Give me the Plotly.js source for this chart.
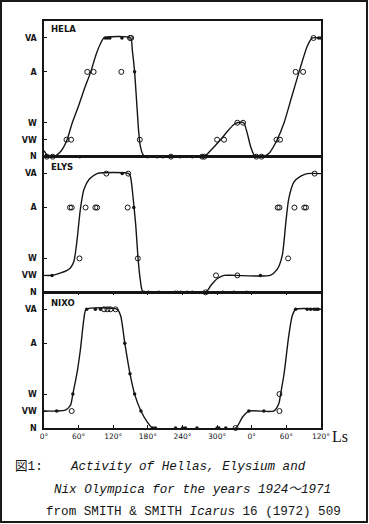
<!DOCTYPE html>
<html>
<head>
<meta charset="utf-8">
<script src="https://cdn.plot.ly/plotly-3.0.1.min.js"></script>
<style>
  html, body { margin: 0; padding: 0; background: #fff; }
  #wrap { position: relative; width: 369px; height: 524px; }
  #chart { position: absolute; left: 0; top: 0; width: 369px; height: 524px; }
  #frame { position: absolute; left: 0; top: 0; width: 368px; height: 523px; box-sizing: border-box; border: 2px solid #1a1a1a; pointer-events: none; }
</style>
</head>
<body>
<div id="wrap"><div id="chart"></div><div id="frame"></div></div>
<script>
// Activity levels: N=0, VW=1, W=2, A=5, VA=7 ; x = Ls in degrees (0..360 then 360..480)
const levelVals = [0, 1, 2, 5, 7];
const levelText = ['N', 'VW', 'W', 'A', 'VA'];
const lsTickVals = [0, 60, 120, 180, 240, 300, 360, 420, 480];
const lsTickText = ['0°', '60°', '120°', '180°', '240°', '300°', '0°', '60°', '120°'];

// HELA (Hellas)
const helaOpenLs  = [5, 15, 39, 47, 75, 86, 134, 149, 151, 166, 220, 274, 278, 300, 312, 335, 345, 368, 377, 403, 409, 436, 449, 467];
const helaOpenLv  = [0, 0, 1, 1, 5, 5, 5, 7, 7, 1, 0, 0, 0, 1, 1, 2, 2, 0, 0, 1, 1, 5, 5, 7];
const helaDotLs   = [62, 106, 110, 114, 135, 157, 179, 196, 206, 236, 257, 476, 480];
const helaDotLv   = [0, 7, 7, 7, 7, 5, 0, 0, 0, 0, 0, 7, 7];
const helaCurveLs = [0, 5, 12, 20, 30, 40, 49, 60, 70, 81, 90, 97, 104, 150, 153, 157, 161, 164, 167, 171, 175, 278, 287, 298, 306, 318, 329, 335, 346, 352, 358, 364, 368, 378, 390, 404, 416, 429, 442, 456, 465, 480];
const helaCurveLv = [0.35, 0.1, 0, 0.05, 0.35, 1, 2, 3, 4, 5, 6, 6.6, 7, 7, 6.3, 5, 3, 1.5, 0.6, 0.15, 0, 0, 0.3, 0.7, 1, 1.5, 1.9, 2, 2, 1.4, 0.6, 0.1, 0, 0, 0.2, 1, 2, 3.5, 5, 6.5, 7, 7];

// ELYS (Elysium)
const elysOpenLs  = [45, 48, 61.5, 72, 89, 92, 108, 146, 145, 162.6, 280, 298, 335, 405, 408, 423, 434, 451, 454, 469];
const elysOpenLv  = [5, 5, 2, 5, 5, 5, 7, 7, 5, 2, 0, 1, 1, 5, 5, 2, 5, 5, 5, 7];
const elysDotLs   = [14, 135.5, 155.6, 173, 181, 199, 227, 231, 237, 248, 257, 310, 329, 351, 375];
const elysDotLv   = [1, 7, 5, 0, 0, 0, 0, 0, 0, 0, 0, 0, 0, 0, 1];
const elysCurveLs = [0, 14, 29, 40, 46, 52, 57, 63, 69, 78, 92, 147, 150, 153, 159, 163, 167, 172, 280, 289, 300, 312, 330, 392, 404, 413, 419, 424, 433, 445, 456, 480];
const elysCurveLv = [1, 1, 1.15, 1.3, 1.45, 1.85, 3, 4.9, 6.05, 6.65, 7, 7, 6.8, 6.05, 3.95, 2, 0.7, 0, 0, 0.4, 0.8, 1, 1, 1, 1.35, 2.2, 4.1, 5.5, 6.5, 6.85, 7, 7];

// NIXO (Nix Olympica)
const nixoOpenLs  = [48, 104, 110, 115, 124, 332, 408, 408];
const nixoOpenLv  = [1, 7, 7, 7, 7, 0, 1, 2];
const nixoDotLs   = [22, 50, 74, 89, 98, 140, 149, 157, 168, 188, 193, 228, 240, 245, 265, 300, 303, 315, 355, 381, 436, 456, 462, 468, 472, 475];
const nixoDotLv   = [1, 2, 7, 7, 7, 5, 3.2, 2, 1, 0, 0, 0, 0, 0, 0, 0, 0, 0, 1, 1, 7, 7, 7, 7, 7, 7];
const nixoCurveLs = [0, 22, 37, 46, 50, 57, 63, 69, 73, 127, 133, 140, 149, 157, 168, 179, 188, 332, 344, 355, 398, 407, 410, 416, 424, 430, 436, 480];
const nixoCurveLv = [1, 1, 1.05, 1.35, 2, 3.2, 4.6, 6.4, 7, 7, 6.6, 5, 3.2, 2, 1, 0.35, 0, 0, 0.65, 1, 1, 1.45, 2, 3.2, 5.4, 6.6, 7, 7];

const ink = '#151515';

function panel(curveX, curveY, openX, openY, dotX, dotY, yaxis) {
  return [
    { x: curveX, y: curveY, yaxis: yaxis, xaxis: 'x', type: 'scatter', mode: 'lines',
      line: { color: ink, width: 1.4, shape: 'spline', smoothing: 0.6 }, hoverinfo: 'skip', cliponaxis: false },
    { x: openX, y: openY, yaxis: yaxis, xaxis: 'x', type: 'scatter', mode: 'markers',
      marker: { symbol: 'circle-open', size: 5, color: ink, line: { width: 1, color: ink } }, cliponaxis: false },
    { x: dotX, y: dotY, yaxis: yaxis, xaxis: 'x', type: 'scatter', mode: 'markers',
      marker: { symbol: 'circle', size: 3.5, color: ink }, cliponaxis: false }
  ];
}

const data = []
  .concat(panel(helaCurveLs, helaCurveLv, helaOpenLs, helaOpenLv, helaDotLs, helaDotLv, 'y'))
  .concat(panel(elysCurveLs, elysCurveLv, elysOpenLs, elysOpenLv, elysDotLs, elysDotLv, 'y2'))
  .concat(panel(nixoCurveLs, nixoCurveLv, nixoOpenLs, nixoOpenLv, nixoDotLs, nixoDotLv, 'y3'));

function yax(domain) {
  return {
    domain: domain, range: [0, 8], anchor: 'x', fixedrange: true,
    tickvals: levelVals, ticktext: levelText, ticks: 'inside', ticklen: 3, tickwidth: 1, tickcolor: ink,
    showgrid: false, zeroline: false, showline: true, mirror: true, linecolor: ink, linewidth: 1.6,
    ticklabelstandoff: 4,
    tickfont: { family: 'DejaVu Sans', size: 8, color: ink, weight: 'bold' }
  };
}

const lbl = (t, y) => ({ text: '<b>' + t + '</b>', xref: 'paper', yref: 'paper', x: 0.018, y: y,
  xanchor: 'left', yanchor: 'middle', showarrow: false, font: { family: 'DejaVu Sans', size: 8.5, color: ink } });

const capFont = { family: 'Liberation Mono, Noto Sans CJK JP', size: 12.6, color: ink };

const layout = {
  width: 369, height: 524,
  margin: { l: 44, r: 48, t: 21, b: 96, pad: 0 },
  paper_bgcolor: '#ffffff', plot_bgcolor: '#ffffff',
  showlegend: false,
  xaxis: {
    range: [0, 480], anchor: 'y3', fixedrange: true,
    tickvals: lsTickVals, ticktext: lsTickText, ticks: 'inside', ticklen: 3, tickcolor: ink,
    showgrid: false, zeroline: false, showline: true, mirror: 'all', linecolor: ink, linewidth: 1.6,
    tickfont: { family: 'DejaVu Sans', size: 7.5, color: ink }
  },
  yaxis: yax([0.6667, 1]),
  yaxis2: yax([0.3333, 0.6667]),
  yaxis3: yax([0, 0.3333]),
  annotations: [
    lbl('HELA', 0.980),
    lbl('ELYS', 0.641),
    lbl('NIXO', 0.307),
    { text: 'Ls', xref: 'paper', yref: 'paper', x: 1.069, y: -0.022, xanchor: 'center', yanchor: 'middle',
      showarrow: false, font: { family: 'Liberation Serif', size: 16, color: ink } },
    { text: '図1:', xref: 'paper', yref: 'paper', x: -0.112, y: -0.0958, xanchor: 'left', yanchor: 'middle',
      showarrow: false, font: capFont },
    { text: '<i>Activity of Hellas, Elysium and</i>', xref: 'paper', yref: 'paper', x: 0.0866, y: -0.0958,
      xanchor: 'left', yanchor: 'middle', showarrow: false, font: capFont },
    { text: '<i>Nix Olympica for the years 1924～1971</i>', xref: 'paper', yref: 'paper', x: 0.0289, y: -0.1523,
      xanchor: 'left', yanchor: 'middle', showarrow: false, font: capFont },
    { text: 'from SMITH &amp; SMITH <i>Icarus</i> 16 (1972) 509', xref: 'paper', yref: 'paper', x: 0.0, y: -0.2064,
      xanchor: 'left', yanchor: 'middle', showarrow: false, font: capFont }
  ]
};

Plotly.newPlot('chart', data, layout, { staticPlot: true, displayModeBar: false });
</script>
</body>
</html>
